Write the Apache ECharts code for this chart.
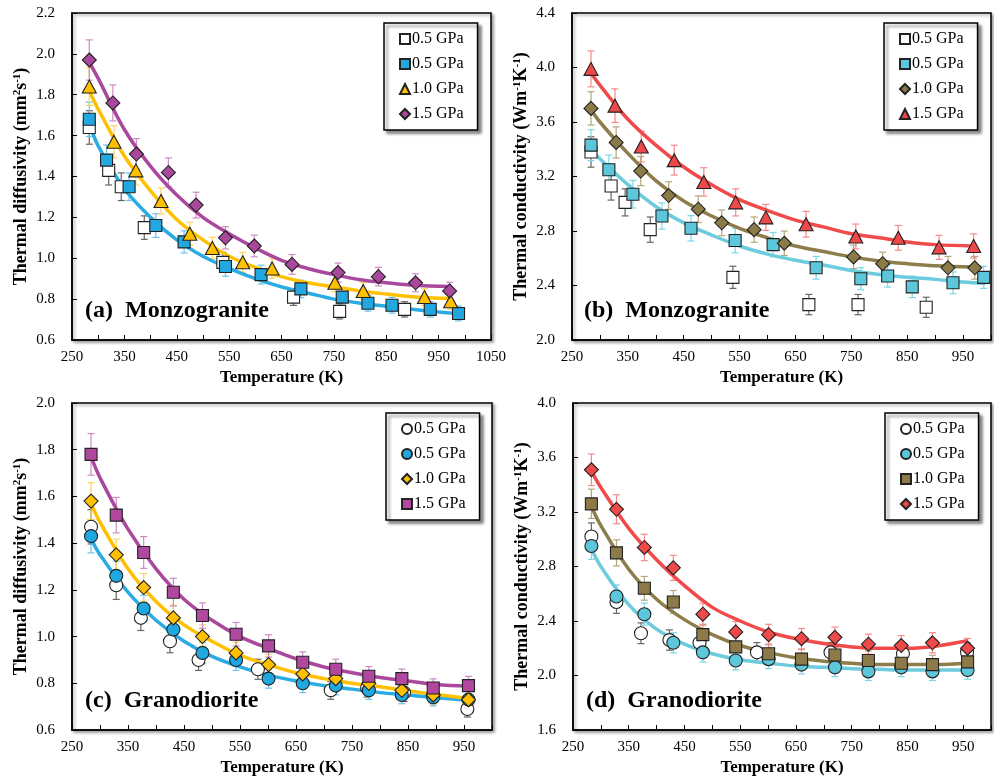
<!DOCTYPE html>
<html lang="en">
<head>
    <meta charset="UTF-8">
    <title>Thermal diffusivity and conductivity</title>
    <style>
        html, body { margin: 0; padding: 0; background: #fff; }
        #myEcharts { width: 994px; height: 782px; }
    </style>
    <script src="https://cdn.jsdelivr.net/npm/echarts@6/dist/echarts.min.js"></script>
</head>
<body>
<div id="myEcharts"></div>
<script>
    // ---------- (a) Monzogranite, thermal diffusivity ----------
    var aT_open = [283, 320, 344, 388, 538, 673, 761, 885];
    var aV_open = [1.64, 1.43, 1.35, 1.15, 0.98, 0.81, 0.74, 0.75];
    var aT_05 = [283, 316, 359, 410, 464, 543, 611, 687, 766, 815, 861, 934, 988];
    var aV_05 = [1.68, 1.48, 1.35, 1.16, 1.08, 0.96, 0.92, 0.85, 0.81, 0.78, 0.77, 0.75, 0.73];
    var aT_10 = [283, 330, 372, 420, 475, 518, 576, 632, 752, 806, 923, 973];
    var aV_10 = [1.84, 1.57, 1.43, 1.28, 1.12, 1.05, 0.98, 0.95, 0.88, 0.84, 0.81, 0.79];
    var aT_15 = [283, 328, 373, 434, 487, 543, 598, 670, 758, 835, 906, 971];
    var aV_15 = [1.97, 1.76, 1.51, 1.42, 1.26, 1.10, 1.06, 0.97, 0.93, 0.91, 0.88, 0.84];
    // fitted curves
    var aFitT_05 = [283, 300, 350, 400, 450, 500, 550, 600, 650, 700, 750, 800, 850, 900, 950, 990];
    var aFit_05 = [1.66, 1.55, 1.34, 1.20, 1.09, 1.01, 0.95, 0.90, 0.86, 0.83, 0.80, 0.78, 0.765, 0.75, 0.737, 0.728];
    var aFitT = [283, 300, 350, 400, 450, 500, 550, 600, 650, 700, 750, 800, 850, 900, 975];
    var aFit_10 = [1.82, 1.73, 1.50, 1.33, 1.19, 1.09, 1.01, 0.955, 0.91, 0.88, 0.86, 0.84, 0.825, 0.812, 0.803];
    var aFit_15 = [1.96, 1.88, 1.63, 1.45, 1.31, 1.20, 1.12, 1.05, 0.99, 0.95, 0.92, 0.895, 0.88, 0.868, 0.862];

    // ---------- (b) Monzogranite, thermal conductivity ----------
    var bT_open = [284, 320, 345, 390, 538, 674, 762, 884];
    var bV_open = [3.38, 3.13, 3.01, 2.81, 2.46, 2.26, 2.26, 2.24];
    var bT_05 = [284, 316, 359, 411, 463, 542, 610, 687, 767, 815, 859, 932, 987];
    var bV_05 = [3.43, 3.25, 3.07, 2.91, 2.82, 2.73, 2.70, 2.53, 2.45, 2.47, 2.39, 2.42, 2.46];
    var bT_10 = [284, 329, 373, 423, 476, 518, 576, 630, 754, 806, 923, 971];
    var bV_10 = [3.70, 3.45, 3.24, 3.06, 2.96, 2.86, 2.81, 2.71, 2.61, 2.56, 2.53, 2.53];
    var bT_15 = [284, 327, 374, 433, 486, 543, 597, 669, 758, 834, 907, 969];
    var bV_15 = [3.99, 3.72, 3.42, 3.32, 3.16, 3.01, 2.90, 2.85, 2.76, 2.75, 2.68, 2.69];
    var bFitT_05 = [284, 300, 350, 400, 450, 500, 550, 600, 650, 700, 750, 800, 850, 900, 950, 990];
    var bFit_05 = [3.40, 3.33, 3.14, 2.98, 2.86, 2.77, 2.69, 2.63, 2.585, 2.55, 2.51, 2.48, 2.46, 2.445, 2.425, 2.415];
    var bFitT = [284, 300, 350, 400, 450, 500, 550, 600, 650, 700, 750, 800, 850, 900, 970];
    var bFit_10 = [3.69, 3.60, 3.37, 3.17, 3.02, 2.91, 2.82, 2.75, 2.69, 2.65, 2.61, 2.58, 2.56, 2.545, 2.535];
    var bFit_15 = [3.96, 3.87, 3.62, 3.43, 3.27, 3.14, 3.03, 2.95, 2.88, 2.83, 2.78, 2.75, 2.72, 2.70, 2.69];

    // ---------- (c) Granodiorite, thermal diffusivity ----------
    var cT_open = [284, 329, 373, 425, 476, 582, 712, 777, 843, 895, 956];
    var cV_open = [1.47, 1.22, 1.08, 0.98, 0.90, 0.86, 0.77, 0.78, 0.76, 0.75, 0.69];
    var cT = [284, 329, 378, 431, 483, 543, 601, 662, 721, 780, 839, 895, 958];
    var cV_05 = [1.43, 1.26, 1.12, 1.03, 0.93, 0.90, 0.82, 0.80, 0.79, 0.77, 0.75, 0.74, 0.73];
    var cV_10 = [1.58, 1.35, 1.21, 1.08, 1.00, 0.93, 0.88, 0.84, 0.82, 0.80, 0.77, 0.75, 0.73];
    var cV_15 = [1.78, 1.52, 1.36, 1.19, 1.09, 1.01, 0.96, 0.89, 0.86, 0.83, 0.82, 0.78, 0.79];
    var cFitT = [284, 300, 350, 400, 450, 500, 550, 600, 650, 700, 750, 800, 850, 900, 958];
    var cFit_05 = [1.42, 1.35, 1.19, 1.07, 0.98, 0.915, 0.87, 0.835, 0.81, 0.79, 0.775, 0.76, 0.75, 0.738, 0.728];
    var cFit_10 = [1.57, 1.49, 1.29, 1.15, 1.05, 0.98, 0.92, 0.88, 0.845, 0.82, 0.80, 0.785, 0.768, 0.752, 0.735];
    var cFit_15 = [1.77, 1.68, 1.46, 1.29, 1.16, 1.07, 1.00, 0.95, 0.905, 0.87, 0.845, 0.825, 0.81, 0.795, 0.788];

    // ---------- (d) Granodiorite, thermal conductivity ----------
    var dT_open = [283, 328, 372, 423, 477, 580, 712, 842, 957];
    var dV_open = [3.02, 2.54, 2.31, 2.26, 2.24, 2.17, 2.17, 2.16, 2.17];
    var dT = [283, 328, 378, 430, 483, 542, 601, 660, 720, 780, 839, 895, 958];
    var dV_05 = [2.95, 2.58, 2.45, 2.24, 2.17, 2.11, 2.12, 2.08, 2.06, 2.03, 2.06, 2.03, 2.04];
    var dV_10 = [3.26, 2.90, 2.64, 2.54, 2.30, 2.21, 2.16, 2.12, 2.15, 2.11, 2.09, 2.08, 2.10];
    var dV_15 = [3.51, 3.22, 2.94, 2.79, 2.45, 2.32, 2.30, 2.27, 2.28, 2.23, 2.22, 2.24, 2.20];
    var dFitT = [283, 300, 350, 400, 450, 500, 550, 600, 650, 700, 750, 800, 850, 900, 958];
    var dFit_05 = [2.93, 2.80, 2.52, 2.34, 2.23, 2.16, 2.115, 2.09, 2.07, 2.06, 2.05, 2.045, 2.04, 2.04, 2.04];
    var dFit_10 = [3.24, 3.10, 2.78, 2.56, 2.41, 2.30, 2.22, 2.17, 2.13, 2.105, 2.09, 2.08, 2.08, 2.08, 2.09];
    var dFit_15 = [3.50, 3.38, 3.08, 2.85, 2.66, 2.50, 2.40, 2.32, 2.27, 2.235, 2.21, 2.20, 2.20, 2.215, 2.255];

    // relative uncertainty of the measurements (error bars)
    var errDiff = 0.05;
    var errCond = 0.033;

    var legendNames = ['0.5 GPa', '0.5 GPa', '1.0 GPa', '1.5 GPa'];

    var serif = '"Liberation Serif", "Times New Roman", serif';

    //把两个数组拼成 [x, y] 数据
    function pairs(xs, ys) {
        var out = [];
        for (var i = 0; i < xs.length; i++) {
            out.push([xs[i], ys[i]]);
        }
        return out;
    }

    //误差棒(自定义系列)
    function errorBars(idx, xs, ys, rel, color) {
        var data = [];
        for (var i = 0; i < xs.length; i++) {
            data.push([xs[i], ys[i], ys[i] * rel]);
        }
        return {
            type: 'custom',
            xAxisIndex: idx,
            yAxisIndex: idx,
            silent: true,
            z: 1,
            encode: { x: 0, y: 1 },
            data: data,
            renderItem: function (params, api) {
                var x = api.value(0), y = api.value(1), e = api.value(2);
                var top = api.coord([x, y + e]);
                var bot = api.coord([x, y - e]);
                var w = 3.5;
                var st = { stroke: color, lineWidth: 1.2 };
                return {
                    type: 'group',
                    children: [
                        { type: 'line', shape: { x1: top[0], y1: top[1], x2: bot[0], y2: bot[1] }, style: st },
                        { type: 'line', shape: { x1: top[0] - w, y1: top[1], x2: top[0] + w, y2: top[1] }, style: st },
                        { type: 'line', shape: { x1: bot[0] - w, y1: bot[1], x2: bot[0] + w, y2: bot[1] }, style: st }
                    ]
                };
            }
        };
    }

    function scatter(idx, name, xs, ys, symbol, size, color) {
        return {
            type: 'scatter',
            name: name,
            xAxisIndex: idx,
            yAxisIndex: idx,
            symbol: symbol,
            symbolSize: size,
            z: 3,
            itemStyle: { color: color, borderColor: '#222', borderWidth: 1.1, opacity: 1 },
            data: pairs(xs, ys)
        };
    }

    function fitLine(idx, xs, ys, color) {
        return {
            type: 'line',
            name: 'fit' + idx + color,
            xAxisIndex: idx,
            yAxisIndex: idx,
            smooth: 0.35,
            symbol: 'none',
            z: 2,
            silent: true,
            lineStyle: { color: color, width: 3.5 },
            data: pairs(xs, ys)
        };
    }

    //每个面板的系列: 空心, 0.5, 1.0, 1.5
    var panels = [
        {
            tag: 'a',
            pts: [[aT_open, aV_open], [aT_05, aV_05], [aT_10, aV_10], [aT_15, aV_15]],
            fits: [[aFitT_05, aFit_05], [aFitT, aFit_10], [aFitT, aFit_15]],
            symbols: ['rect', 'rect', 'triangle', 'diamond'],
            sizes: [12, 12, [14, 13], [14, 14]],
            colors: ['#ffffff', '#22a7e0', '#ffc000', '#a8479b'],
            lineColors: ['#2aabe3', '#ffc000', '#a9489c'],
            errColors: ['#666666', '#6cc4ec', '#ffd35a', '#cc8cc2'],
            rel: errDiff
        },
        {
            tag: 'b',
            pts: [[bT_open, bV_open], [bT_05, bV_05], [bT_10, bV_10], [bT_15, bV_15]],
            fits: [[bFitT_05, bFit_05], [bFitT, bFit_10], [bFitT, bFit_15]],
            symbols: ['rect', 'rect', 'diamond', 'triangle'],
            sizes: [12, 12, [14, 14], [14, 13]],
            colors: ['#ffffff', '#5cc6da', '#8b7c47', '#ee4848'],
            lineColors: ['#6ccbdd', '#8c7d4a', '#f04a4a'],
            errColors: ['#666666', '#7dd6e6', '#b3a77c', '#f58a8a'],
            rel: errCond
        },
        {
            tag: 'c',
            pts: [[cT_open, cV_open], [cT, cV_05], [cT, cV_10], [cT, cV_15]],
            fits: [[cFitT, cFit_05], [cFitT, cFit_10], [cFitT, cFit_15]],
            symbols: ['circle', 'circle', 'diamond', 'rect'],
            sizes: [13, 13, [14, 14], 12],
            colors: ['#ffffff', '#1fa8e0', '#ffc000', '#b0489f'],
            lineColors: ['#2aabe3', '#ffc000', '#a9489c'],
            errColors: ['#666666', '#6cc4ec', '#ffd35a', '#cc8cc2'],
            rel: errDiff
        },
        {
            tag: 'd',
            pts: [[dT_open, dV_open], [dT, dV_05], [dT, dV_10], [dT, dV_15]],
            fits: [[dFitT, dFit_05], [dFitT, dFit_10], [dFitT, dFit_15]],
            symbols: ['circle', 'circle', 'rect', 'diamond'],
            sizes: [13, 13, 12, [14, 14]],
            colors: ['#ffffff', '#5cc6da', '#8c7b48', '#ee4a4a'],
            lineColors: ['#6ccbdd', '#8c7d4a', '#f04a4a'],
            errColors: ['#666666', '#7dd6e6', '#b3a77c', '#f58a8a'],
            rel: errCond
        }
    ];

    //网格位置
    var grids = [
        { left: 72, top: 13, width: 419, height: 327 },
        { left: 572, top: 13, width: 420, height: 327 },
        { left: 72, top: 403, width: 420, height: 327 },
        { left: 573, top: 403, width: 419, height: 327 }
    ];
    var legendPos = [[384, 23], [884, 23], [386, 413], [885, 413]];
    var yRange = [[0.6, 2.2, 0.2], [2.0, 4.4, 0.4], [0.6, 2.0, 0.2], [1.6, 4.0, 0.4]];
    var xMax = [1050, 1000, 1000, 1000];
    var yNames = [
        'Thermal diffusivity (mm{sup|2}s{sup|-1})',
        'Thermal conductivity (Wm{sup|-1}K{sup|-1})',
        'Thermal diffusivity (mm{sup|2}s{sup|-1})',
        'Thermal conductivity (Wm{sup|-1}K{sup|-1})'
    ];
    var panelTitles = ['(a)  Monzogranite', '(b)  Monzogranite', '(c)  Granodiorite', '(d)  Granodiorite'];
    var titlePos = [[85, 299], [584, 299], [85, 689], [586, 689]];

    var series = [];
    var legends = [];
    var xAxes = [];
    var yAxes = [];
    var titles = [];

    for (var p = 0; p < panels.length; p++) {
        var pn = panels[p];
        var names = [];
        //误差棒
        for (var k = 0; k < 4; k++) {
            series.push(errorBars(p, pn.pts[k][0], pn.pts[k][1], pn.rel, pn.errColors[k]));
        }
        //拟合曲线
        for (var k = 0; k < 3; k++) {
            series.push(fitLine(p, pn.fits[k][0], pn.fits[k][1], pn.lineColors[k]));
        }
        //数据点
        for (var k = 0; k < 4; k++) {
            var nm = legendNames[k] + '#' + pn.tag + k;
            names.push(nm);
            series.push(scatter(p, nm, pn.pts[k][0], pn.pts[k][1], pn.symbols[k], pn.sizes[k], pn.colors[k]));
        }

        legends.push({
            data: names,
            orient: 'vertical',
            left: legendPos[p][0],
            top: legendPos[p][1],
            padding: [8, 14, 8, 15],
            itemGap: 9,
            itemWidth: 10,
            itemHeight: 10,
            backgroundColor: '#fff',
            borderColor: '#000',
            borderWidth: 1.5,
            shadowColor: 'rgba(0,0,0,0.45)',
            shadowBlur: 3,
            shadowOffsetX: 3,
            shadowOffsetY: 3,
            selectedMode: false,
            formatter: function (name) {
                return name.split('#')[0];
            },
            textStyle: { fontFamily: serif, fontSize: 16, color: '#000', padding: [0, 0, 0, -3] }
        });

        xAxes.push({
            gridIndex: p,
            type: 'value',
            min: 250,
            max: xMax[p],
            interval: 50,
            name: 'Temperature (K)',
            nameLocation: 'middle',
            nameGap: 29,
            nameTextStyle: { fontFamily: serif, fontWeight: 'bold', fontSize: 17, color: '#000' },
            axisLine: { lineStyle: { color: '#000', width: 1.5 } },
            axisTick: { inside: true, length: 5, lineStyle: { color: '#000', width: 1 } },
            axisLabel: {
                color: '#000', fontFamily: serif, fontSize: 15, margin: 10,
                showMinLabel: true, showMaxLabel: true,
                formatter: function (v) {
                    return (v - 250) % 100 === 0 ? String(v) : '';
                }
            },
            splitLine: { show: false }
        });

        yAxes.push({
            gridIndex: p,
            type: 'value',
            min: yRange[p][0],
            max: yRange[p][1],
            interval: yRange[p][2],
            name: yNames[p],
            nameLocation: 'middle',
            nameGap: 42,
            nameTextStyle: {
                fontFamily: serif, fontWeight: 'bold', fontSize: 18, color: '#000',
                rich: { sup: { fontFamily: serif, fontWeight: 'bold', fontSize: 11, color: '#000', verticalAlign: 'top', padding: [0, 0, 6, 0] } }
            },
            axisLine: { show: true, lineStyle: { color: '#000', width: 1.5 } },
            axisTick: { show: true, inside: true, length: 5, lineStyle: { color: '#000', width: 1 } },
            axisLabel: {
                color: '#000', fontFamily: serif, fontSize: 15, margin: 17,
                formatter: function (v) { return v.toFixed(1); }
            },
            splitLine: { show: false }
        });

        titles.push({
            text: panelTitles[p],
            left: titlePos[p][0],
            top: titlePos[p][1],
            padding: 0,
            textStyle: { fontFamily: serif, fontWeight: 'bold', fontSize: 24, color: '#000' }
        });
    }

    var gridOpts = grids.map(function (g) {
        return {
            left: g.left, top: g.top, width: g.width, height: g.height,
            show: true,
            backgroundColor: '#fff',
            borderColor: '#000',
            borderWidth: 1.5,
            shadowColor: 'rgba(0,0,0,0.35)',
            shadowBlur: 3,
            shadowOffsetX: 2,
            shadowOffsetY: 2
        };
    });

    var myChart = echarts.init(document.getElementById('myEcharts'), null, { renderer: 'canvas' });
    myChart.setOption({
        animation: false,
        backgroundColor: '#fff',
        title: titles,
        grid: gridOpts,
        xAxis: xAxes,
        yAxis: yAxes,
        legend: legends,
        series: series
    });
</script>
</body>
</html>
